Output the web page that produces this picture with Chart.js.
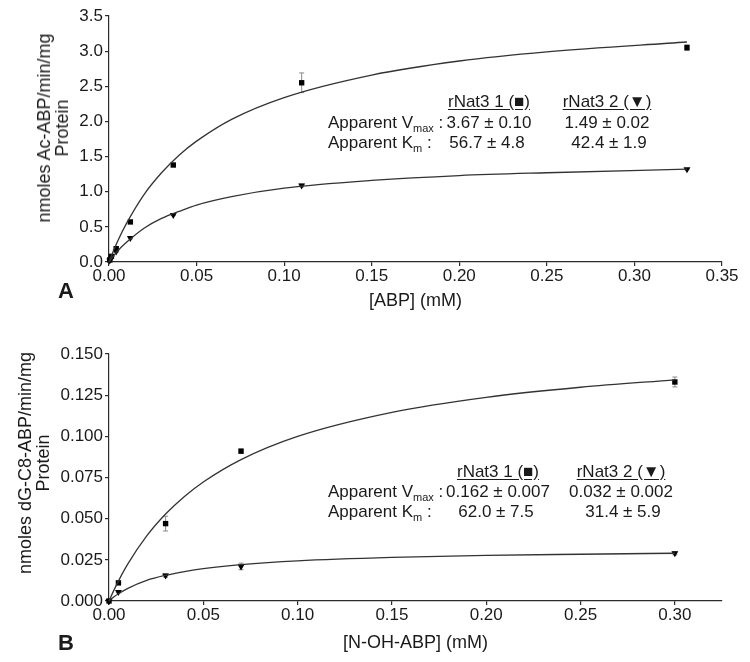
<!DOCTYPE html>
<html>
<head>
<meta charset="utf-8">
<script src="https://cdn.jsdelivr.net/npm/chart.js@4.4.1/dist/chart.umd.min.js"></script>
<style>
  body { margin: 0; background: #fff; }
  #wrap { position: relative; width: 750px; height: 662px; font-family: "Liberation Sans", Arial, sans-serif; color: #1a1a1a; }
  canvas { position: absolute; left: 0; }
  .txt { position: absolute; font-size: 17px; line-height: 17px; white-space: nowrap; }
  .txt sub { font-size: 11px; vertical-align: -4px; line-height: 0; }
  .hdr { text-decoration: underline; text-underline-offset: 2px; }
  .ytitle { position: absolute; font-size: 18px; line-height: 18px; white-space: nowrap; text-align: center; transform: translate(-50%, -50%) rotate(-90deg); }
  .panel { position: absolute; font-size: 22px; font-weight: bold; line-height: 22px; }
</style>
</head>
<body>
<div id="wrap">
  <canvas id="chartA" width="750" height="320" style="top:0"></canvas>
  <canvas id="chartB" width="750" height="342" style="top:320px"></canvas>
</div>
<script>
// panel A - ABP (mM) vs nmoles Ac-ABP/min/mg protein
const abpConc = [0.00045, 0.00136, 0.0041, 0.0122, 0.0367, 0.11, 0.33];
const abpNat1 = [0.03, 0.08, 0.19, 0.57, 1.38, 2.55, 3.05];
const abpNat1Err = [0.01, 0.01, 0.02, 0.02, 0.02, 0.14, 0.04];
const abpNat2 = [0.02, 0.06, 0.15, 0.34, 0.67, 1.09, 1.32];
const abpNat2Err = [0, 0, 0.01, 0.01, 0.01, 0.02, 0.01];

// fitted curves
const abpFitX = [0, 0.0025, 0.005, 0.01, 0.02, 0.03, 0.04, 0.05, 0.07, 0.1, 0.15, 0.2, 0.25, 0.33];
const abpFit1 = [0, 0.155, 0.30, 0.55, 0.96, 1.27, 1.52, 1.72, 2.03, 2.34, 2.66, 2.86, 2.99, 3.13];
const abpFit2 = [0, 0.083, 0.16, 0.28, 0.48, 0.62, 0.72, 0.81, 0.93, 1.05, 1.16, 1.23, 1.27, 1.32];

// panel B - N-OH-ABP (mM) vs nmoles dG-C8-ABP/min/mg protein
const nohConc = [0, 0.005, 0.03, 0.07, 0.30];
const nohNat1 = [0, 0.011, 0.047, 0.091, 0.133];
const nohNat1Err = [0, 0.001, 0.0045, 0.0012, 0.003];
const nohNat2 = [0, 0.0055, 0.0155, 0.021, 0.029];
const nohNat2Err = [0, 0.0005, 0.001, 0.002, 0.001];

const nohFitX = [0, 0.0025, 0.005, 0.01, 0.02, 0.03, 0.04, 0.05, 0.07, 0.1, 0.15, 0.2, 0.25, 0.3];
const nohFit1 = [0, 0.0063, 0.0121, 0.0225, 0.0395, 0.0528, 0.0635, 0.0723, 0.0859, 0.100, 0.1146, 0.1237, 0.1298, 0.1343];
const nohFit2 = [0, 0.0024, 0.0044, 0.0077, 0.0125, 0.0156, 0.0179, 0.0197, 0.0221, 0.0244, 0.0265, 0.0277, 0.0284, 0.0290];

const axisColor = '#2b2b2b';
Chart.defaults.font.family = '"Liberation Sans", Arial, sans-serif';
Chart.defaults.color = '#1a1a1a';

const pts = (xs, ys) => xs.map((x, i) => ({ x, y: ys[i] }));

// draws gray error bars under the points
const errorBars = {
  id: 'errorBars',
  beforeDatasetsDraw(chart) {
    const { ctx, scales: { x, y } } = chart;
    ctx.save();
    ctx.strokeStyle = '#8a8a8a';
    ctx.lineWidth = 1;
    chart.data.datasets.forEach(ds => {
      if (!ds.errors) return;
      ds.data.forEach((p, i) => {
        const e = ds.errors[i];
        if (!e) return;
        const px = x.getPixelForValue(p.x);
        const top = y.getPixelForValue(p.y + e);
        const bot = y.getPixelForValue(p.y - e);
        ctx.beginPath();
        ctx.moveTo(px, top); ctx.lineTo(px, bot);
        ctx.moveTo(px - 2.5, top); ctx.lineTo(px + 2.5, top);
        ctx.moveTo(px - 2.5, bot); ctx.lineTo(px + 2.5, bot);
        ctx.stroke();
      });
    });
    ctx.restore();
  }
};

function curve(xs, ys) {
  return {
    data: pts(xs, ys), showLine: true, pointRadius: 0,
    borderColor: '#333', borderWidth: 1.3, cubicInterpolationMode: 'monotone', clip: false
  };
}

function marks(xs, ys, errs, style) {
  return {
    data: pts(xs, ys), errors: errs, showLine: false,
    pointStyle: style, pointRotation: style === 'triangle' ? 180 : 0,
    pointRadius: style === 'triangle' ? 4 : 3.8,
    backgroundColor: '#000', borderColor: '#000', borderWidth: 0, clip: false
  };
}

function makeChart(id, o) {
  return new Chart(document.getElementById(id), {
    type: 'scatter',
    data: {
      datasets: [
        curve(o.fitX, o.fit1), curve(o.fitX, o.fit2),
        marks(o.x, o.s1, o.e1, 'rect'), marks(o.x, o.s2, o.e2, 'triangle')
      ]
    },
    options: {
      responsive: false,
      animation: false,
      events: [],
      layout: { padding: { top: o.padTop, right: 28, left: 0, bottom: 0 } },
      plugins: { legend: { display: false }, tooltip: { enabled: false } },
      scales: {
        x: {
          type: 'linear', min: 0, max: o.xMax,
          afterFit: s => { s.height = o.xAxisH; },
          border: { color: axisColor, width: 1.2 },
          grid: { drawOnChartArea: false, color: axisColor, tickLength: 4, lineWidth: 1.2 },
          ticks: { stepSize: 0.05, includeBounds: false, autoSkip: false, maxRotation: 0, padding: 0,
                   color: '#1a1a1a', font: { size: 17 }, callback: v => v.toFixed(2) },
          title: { display: true, text: o.xTitle, color: '#1a1a1a', font: { size: 18 },
                   padding: { top: 0, bottom: o.titlePad } }
        },
        y: {
          type: 'linear', min: 0, max: o.yMax,
          afterFit: s => { s.width = 109; },
          border: { color: axisColor, width: 1.2 },
          grid: { drawOnChartArea: false, color: axisColor, tickLength: 4, lineWidth: 1.2 },
          ticks: { stepSize: o.yStep, autoSkip: false, padding: 2, color: '#1a1a1a',
                   font: { size: 17 }, callback: v => v.toFixed(o.yDec) }
        }
      }
    },
    plugins: [errorBars]
  });
}

makeChart('chartA', {
  x: abpConc, s1: abpNat1, e1: abpNat1Err, s2: abpNat2, e2: abpNat2Err,
  fitX: abpFitX, fit1: abpFit1, fit2: abpFit2,
  xMax: 0.35, yMax: 3.5, yStep: 0.5, yDec: 1,
  padTop: 16, xAxisH: 58, titlePad: 8, xTitle: '[ABP] (mM)'
});

makeChart('chartB', {
  x: nohConc, s1: nohNat1, e1: nohNat1Err, s2: nohNat2, e2: nohNat2Err,
  fitX: nohFitX, fit1: nohFit1, fit2: nohFit2,
  xMax: 0.325, yMax: 0.150, yStep: 0.025, yDec: 3,
  padTop: 34, xAxisH: 61, titlePad: 8, xTitle: '[N-OH-ABP] (mM)'
});

// text overlays: kinetic constants, y titles, panel letters
const wrap = document.getElementById('wrap');
function place(html, x, baseline, align, cls) {
  const d = document.createElement('div');
  d.className = 'txt' + (cls ? ' ' + cls : '');
  d.innerHTML = html;
  d.style.top = (baseline - 14.4) + 'px';
  if (align === 'center') {
    d.style.left = (x - 100) + 'px';
    d.style.width = '200px';
    d.style.textAlign = 'center';
  } else {
    d.style.left = x + 'px';
  }
  wrap.appendChild(d);
}

function table(rows, c1, c2, cells) {
  place('<span class="hdr">rNat3 1 (\u25A0)</span>', c1, rows[0], 'center');
  place('<span class="hdr">rNat3 2 (\u25BC)</span>', c2, rows[0], 'center');
  place('Apparent V<sub>max</sub> :', 328, rows[1]);
  place('Apparent K<sub>m</sub> :', 328, rows[2]);
  place(cells[0], c1, rows[1], 'center');
  place(cells[1], c2, rows[1], 'center');
  place(cells[2], c1 - 2, rows[2], 'center');
  place(cells[3], c2 + 2, rows[2], 'center');
}

table([107, 128, 148], 489, 607, ['3.67 \u00B1 0.10', '1.49 \u00B1 0.02', '56.7 \u00B1 4.8', '42.4 \u00B1 1.9']);
table([477, 497, 517], 498, 621, ['0.162 \u00B1 0.007', '0.032 \u00B1 0.002', '62.0 \u00B1 7.5', '31.4 \u00B1 5.9']);

function yTitle(lines, cx, cy) {
  const d = document.createElement('div');
  d.className = 'ytitle';
  d.innerHTML = lines.join('<br>');
  d.style.left = cx + 'px';
  d.style.top = cy + 'px';
  wrap.appendChild(d);
}
yTitle(['nmoles Ac-ABP/min/mg', 'Protein'], 53, 128);
yTitle(['nmoles dG-C8-ABP/min/mg', 'Protein'], 34, 463);

function panelLetter(t, x, baseline) {
  const d = document.createElement('div');
  d.className = 'panel';
  d.textContent = t;
  d.style.left = x + 'px';
  d.style.top = (baseline - 18.5) + 'px';
  wrap.appendChild(d);
}
panelLetter('A', 58, 298);
panelLetter('B', 58, 650);
</script>
</body>
</html>
